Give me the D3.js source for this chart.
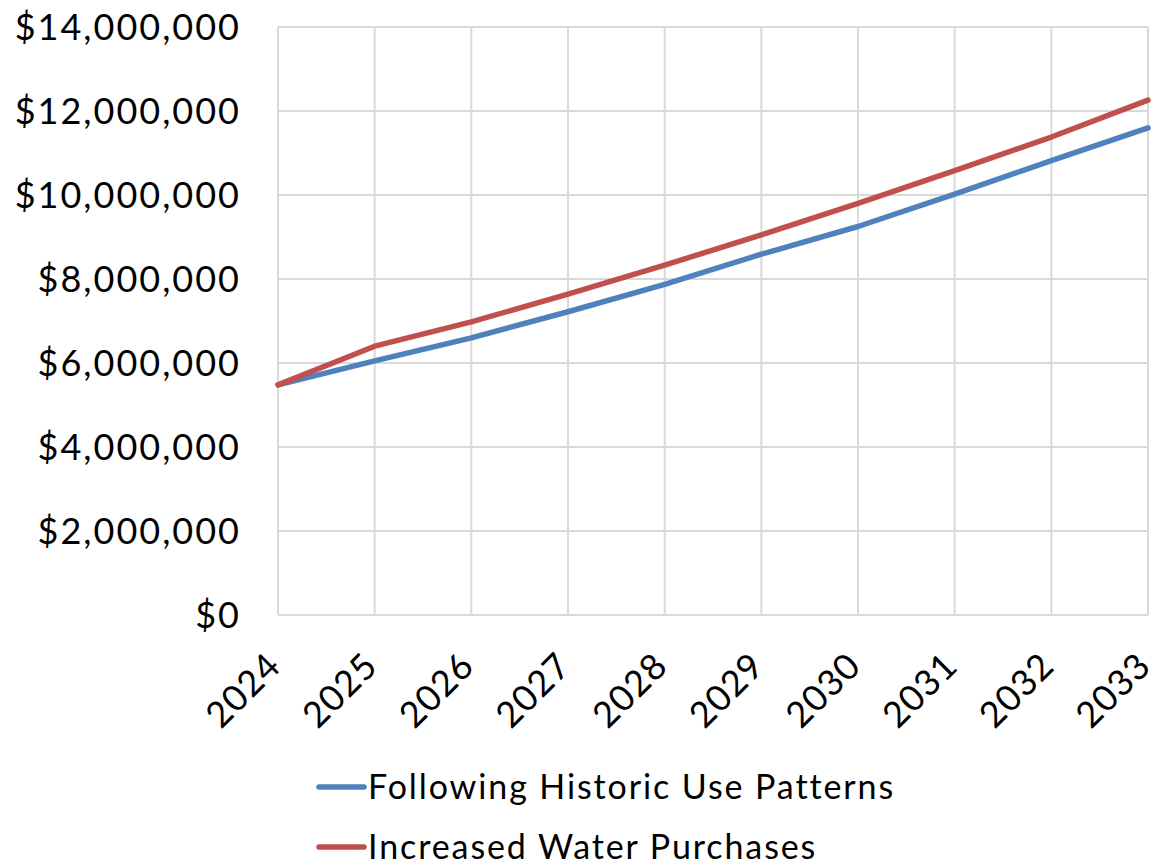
<!DOCTYPE html>
<html>
<head>
<meta charset="utf-8">
<script src="https://cdn.jsdelivr.net/npm/d3@7"></script>
<style>
  html, body { margin: 0; padding: 0; background: #fff; }
  svg text { font-family: Lato, "Open Sans", sans-serif; fill: #000; }
</style>
</head>
<body>
<svg id="chart" width="1158" height="865"></svg>
<script>
// Projected annual cost, 2024–2033
const years = [2024, 2025, 2026, 2027, 2028, 2029, 2030, 2031, 2032, 2033];
const historicUse = [5480000, 6050000, 6600000, 7220000, 7870000, 8590000, 9250000, 10020000, 10820000, 11600000];
const increasedPurchases = [5480000, 6400000, 6980000, 7640000, 8330000, 9050000, 9800000, 10580000, 11380000, 12260000];
const yTicks = [0, 2000000, 4000000, 6000000, 8000000, 10000000, 12000000, 14000000];
const seriesNames = ["Following Historic Use Patterns", "Increased Water Purchases"];
const seriesColors = ["#4F81BD", "#C0504D"];

const svg = d3.select("#chart");

const x = d3.scalePoint().domain(years).range([278, 1148]);
const y = d3.scaleLinear().domain([0, 14000000]).range([615, 27]);

const grid = svg.append("g").attr("stroke", "#d9d9d9").attr("stroke-width", 2);
// horizontal gridlines
grid.selectAll("line.h").data(yTicks).join("line")
  .attr("class", "h")
  .attr("x1", x(years[0])).attr("x2", x(years[years.length - 1]))
  .attr("y1", d => y(d)).attr("y2", d => y(d));
// vertical gridlines
grid.selectAll("line.v").data(years).join("line")
  .attr("class", "v")
  .attr("x1", d => x(d)).attr("x2", d => x(d))
  .attr("y1", y(0)).attr("y2", y(14000000));

// y axis labels
const fmt = d3.format("$,");
svg.append("g").selectAll("text").data(yTicks).join("text")
  .attr("x", 241)
  .attr("y", d => y(d))
  .attr("dy", "0.35em")
  .attr("text-anchor", "end")
  .attr("font-size", 36)
  .attr("letter-spacing", 2)
  .text(d => fmt(d));

// x axis labels, rotated
svg.append("g").selectAll("text").data(years).join("text")
  .attr("text-anchor", "end")
  .attr("font-size", 36)
  .attr("letter-spacing", 1)
  .attr("transform", d => `translate(${x(d) + 5},${y(0) + 53}) rotate(-45)`)
  .text(d => d);

// series lines
const series = [historicUse, increasedPurchases];
const line = d3.line().x((d, i) => x(years[i])).y(d => y(d));
svg.append("g").selectAll("path").data(series).join("path")
  .attr("d", d => line(d))
  .attr("fill", "none")
  .attr("stroke", (d, i) => seriesColors[i])
  .attr("stroke-width", 5.5)
  .attr("stroke-linejoin", "round")
  .attr("stroke-linecap", "round");

// legend
const legend = svg.append("g");
const legendY = [787, 847];
seriesNames.forEach((name, i) => {
  legend.append("line")
    .attr("x1", 319).attr("x2", 364)
    .attr("y1", legendY[i]).attr("y2", legendY[i])
    .attr("stroke", seriesColors[i])
    .attr("stroke-width", 5.5)
    .attr("stroke-linecap", "round");
  legend.append("text")
    .attr("x", 368)
    .attr("y", legendY[i])
    .attr("dy", "0.35em")
    .attr("font-size", 34)
    .attr("letter-spacing", 1.9)
    .text(name);
});
</script>
</body>
</html>
